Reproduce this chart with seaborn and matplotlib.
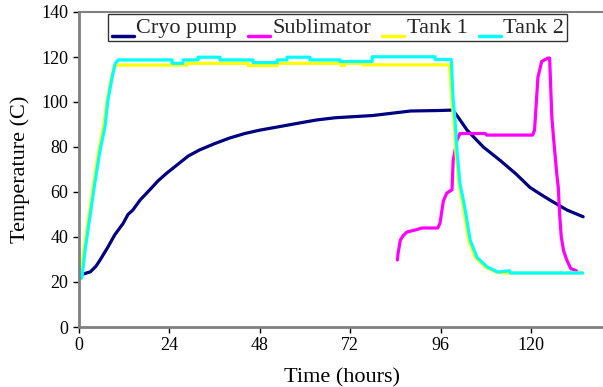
import numpy as np
import pandas as pd
import matplotlib
matplotlib.use("Agg")
import matplotlib.pyplot as plt
import seaborn as sns

# ---- data ----
cryo_t = [0, 1, 3, 4.5, 5.6, 7.7, 9.5, 11.7, 13, 14.3, 16.2, 18.8, 21, 23.3, 26, 29, 32,
          36, 40, 44, 48, 53, 58.6, 63, 68, 73, 78, 83, 88, 95, 99.2, 100.6, 103, 107.3,
          111.8, 116, 119.7, 122.5, 125, 129.5, 133.8]
cryo_T = [23, 23.5, 24.5, 27, 29.8, 35.6, 41, 46, 50, 52, 56.4, 61, 65, 68.4, 72, 76, 78.7,
          81.5, 84, 86, 87.5, 89, 90.7, 92, 93, 93.5, 94, 95, 96, 96.2, 96.4, 93.3, 87.5, 80,
          74, 68, 62, 59, 56.4, 52, 49]

subl_t = [84.5, 84.7, 85.3, 86, 87, 89, 91, 95.2, 95.8, 96.7, 97.6, 99.0, 99.3, 100.3, 101.1,
          107.8, 108.2, 120.4, 120.9, 121.8, 122.8, 124.4, 124.9, 125.5, 126.0, 126.8, 127.2,
          127.6, 128, 128.6, 129.4, 130.5, 132]
subl_T = [29.8, 33, 38.7, 40.5, 42.2, 43, 44, 44, 46, 56, 59.5, 61, 74, 83, 86,
          86, 85.3, 85.3, 87.5, 111, 118, 119.5, 119.5, 93, 83, 68, 62,
          49, 40, 34, 30, 26, 25]

tank1_t = [0, 0.6, 1.2, 2.5, 3.8, 5.2, 6.5, 7.4, 8.5, 9.4, 10.2, 28.7, 28.7, 44.9, 44.9,
           52.6, 52.6, 69.5, 69.5, 70.5, 70.5, 75.4, 75.4, 98.3, 99.0, 99.5, 100.0, 100.8,
           102.1, 103.4, 105.1, 107.8, 110.7, 113, 133.7]
tank1_T = [21, 24, 33, 48, 63, 78, 89, 100, 110, 116.4, 116.4, 116.4, 117.2, 117.2, 116.2,
           116.2, 117.2, 117.2, 116.2, 116.2, 117.2, 117.2, 116.5, 116.5, 100, 92, 78, 64,
           52, 38.7, 31, 26.7, 24.4, 24, 24]

tank2_t = [0, 0.8, 1.6, 2.9, 4.2, 5.6, 6.9, 7.7, 8.8, 9.6, 10.4, 24.7, 24.7, 27.6, 27.6,
           31.6, 31.6, 37.4, 37.4, 46.2, 46.2, 52.6, 52.6, 55.2, 55.2, 61.3, 61.3, 69.3,
           69.3, 77.8, 77.8, 94.5, 94.5, 98.8, 99.3, 99.8, 100.3, 101.1, 102.5, 103.8,
           105.6, 108.3, 111.2, 114.3, 114.5, 133.7]
tank2_T = [21, 22, 34, 49, 64, 78.7, 89, 101, 111, 117, 118.7, 118.7, 117.2, 117.2, 118.7,
           118.7, 119.9, 119.9, 118.7, 118.7, 117.5, 117.5, 118.7, 118.7, 119.9, 119.9, 118.7,
           118.7, 118.0, 118.0, 120.1, 120.1, 118.9, 118.9, 100.9, 92, 78.7, 64, 52, 38.7,
           31, 26.7, 24.4, 25, 24, 24]

x_ticks = [0, 24, 48, 72, 96, 120]
y_ticks = [0, 20, 40, 60, 80, 100, 120, 140]

series = [
    ("Cryo pump", cryo_t, cryo_T, "#000080"),
    ("Sublimator", subl_t, subl_T, "#FF00FF"),
    ("Tank 1", tank1_t, tank1_T, "#FFFF00"),
    ("Tank 2", tank2_t, tank2_T, "#00FFFF"),
]

# ---- style ----
sns.set_theme(style="ticks")
plt.rcParams["font.family"] = ["Liberation Serif", "DejaVu Serif"]
plt.rcParams["axes.edgecolor"] = "#808080"

fig = plt.figure(figsize=(6.03, 3.87), dpi=100)
ax = fig.add_axes([79 / 603, 1 - 327 / 387, (605 - 79) / 603, (327 - 12) / 387])

for name, t, T, c in series:
    sns.lineplot(x=np.array(t), y=np.array(T), ax=ax, estimator=None, sort=False,
                 color=c, linewidth=2.3, label=name)

ax.set_xlim(0, 139.6)
ax.set_ylim(0, 140)
ax.set_xticks(x_ticks)
ax.set_yticks(y_ticks)
ax.tick_params(axis="both", labelsize=13, colors="black", length=4, width=1,
               direction="out", labelcolor="black")
for s in ["left", "bottom"]:
    ax.spines[s].set_linewidth(2.0)
    ax.spines[s].set_color("#808080")
ax.spines["top"].set_linewidth(1.5)
ax.spines["top"].set_color("#808080")
ax.spines["right"].set_visible(False)

ax.set_xlabel("Time (hours)", fontsize=16, color="black", labelpad=10)
ax.set_ylabel("Temperature (C)", fontsize=16, color="black", labelpad=8)

leg = ax.legend(loc="upper center", bbox_to_anchor=(0.492, 0.993), ncol=4,
                fontsize=16, frameon=True, fancybox=False, edgecolor="black",
                handlelength=1.0, handletextpad=0.1, columnspacing=0.5,
                borderpad=0.15, borderaxespad=0.0)
leg.get_frame().set_linewidth(1.0)
for h in leg.get_lines():
    h.set_linewidth(2.5)
    h.set_ydata(np.asarray(h.get_ydata(), dtype=float) - 8.0)

fig.savefig("out.png", dpi=100)
